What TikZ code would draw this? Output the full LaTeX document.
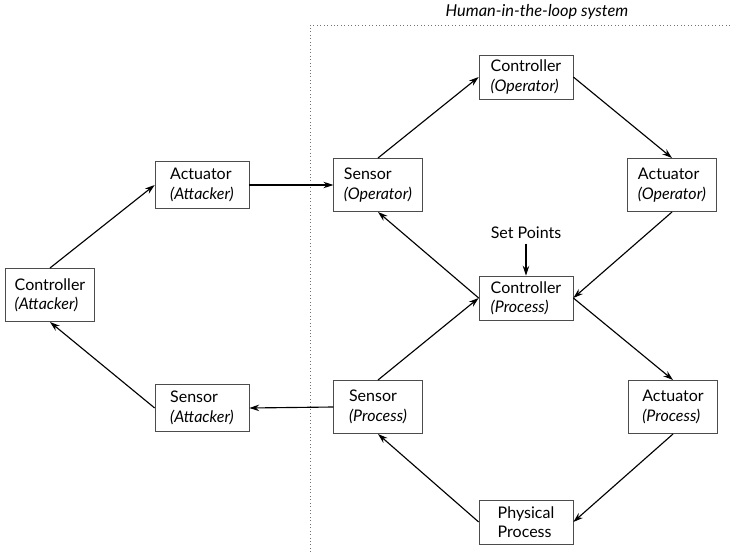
\documentclass[tikz,border=0pt]{standalone}
\usepackage{fontspec}
\setmainfont{Lato}
\usetikzlibrary{arrows.meta}

\begin{document}
\begin{tikzpicture}[x=0.75pt,y=-0.75pt,font=\fontsize{12}{14.5}\selectfont,>={Stealth[length=2.6mm,width=1.7mm]},
  b/.style={draw=black!70,line width=0.5pt,align=left,inner sep=3pt,minimum width=70.5pt,minimum height=33pt},
  a/.style={b,minimum height=35pt},
  t/.style={b,minimum width=66.5pt,minimum height=40pt},
  e/.style={->,line width=0.85pt}]
  \useasboundingbox (0,0) rectangle (730,552);
  % human-in-the-loop region
  \draw[black!55,dotted,line width=0.6pt] (730,25) -- (310,25) -- (310,552);
  \node[font=\fontsize{12.3}{14.5}\selectfont\itshape] (hl) at (537,12) {Human-in-the-loop system};
  % attacker loop
  \node[t] (ca) at (50,295) {Controller\\\textit{(Attacker)}};
  \node[a] (aa) at (202,185) {Actuator\\\textit{(Attacker)}};
  \node[a] (sa) at (202,408) {Sensor\\\textit{(Attacker)}};
  % operator loop
  \node[b] (co) at (526,77) {Controller\\\textit{(Operator)}};
  \node[t] (so) at (378,185) {Sensor\\\textit{(Operator)}};
  \node[t] (ao) at (672,185) {Actuator\\\textit{(Operator)}};
  % process loop
  \node (sp) at (526,233) {Set Points};
  \node[b] (cp) at (526,298) {Controller\\\textit{(Process)}};
  \node[t] (sn) at (378,407) {Sensor\\\textit{(Process)}};
  \node[t] (ap) at (673,407) {Actuator\\\textit{(Process)}};
  \node[b] (pp) at (526,522) {Physical\\Process};
  \draw[e](ca.north)--(aa.west);\draw[e](sa.west)--(ca.south);
  \draw[e](aa.east)--(so.west);\draw[e](sn.west)--(sa.east);
  \draw[e](so.north)--(co.west);\draw[e](co.east)--(ao.north);
  \draw[e](ao.south)--(cp.east);\draw[e](cp.west)--(so.south);
  \draw[e](sn.north)--(cp.west);\draw[e](cp.east)--(ap.north);
  \draw[e](ap.south)--(pp.east);\draw[e](pp.west)--(sn.south);
  \draw[e](sp)--(cp);
\end{tikzpicture}
\end{document}
